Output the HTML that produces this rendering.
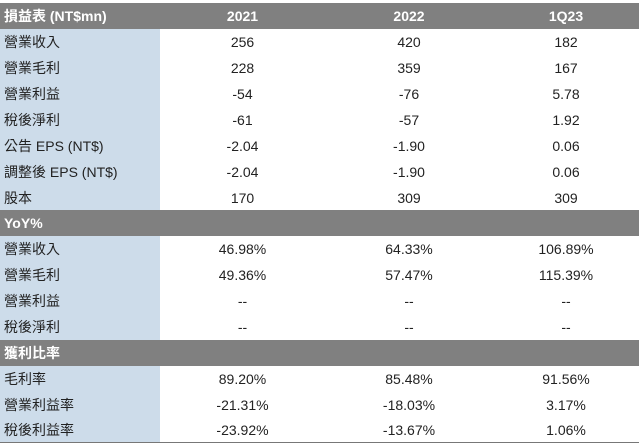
<!DOCTYPE html>
<html><head><meta charset="utf-8"><style>
body{margin:0;width:642px;height:445px;background:#fff;position:relative;overflow:hidden;font-family:"Liberation Sans","Noto Sans CJK TC",sans-serif;font-size:14px;color:#222}
.r{position:absolute;left:0;width:639px;height:26px;line-height:26px}
.h{background:#808080;color:#fff;font-weight:bold}
.c{position:absolute;top:0;height:100%}
.l{left:0;width:160px;padding-left:4px;box-sizing:border-box}
.b{background:#cddcea}
.a{left:160px;width:165px;text-align:center}
.d{left:325px;width:168px;text-align:center}
.e{left:493px;width:146px;text-align:center}
.line{position:absolute;left:0;width:639px;height:1px;background:#777}
</style></head><body>
<div class="r h" style="top:3px"><div class="c l">損益表 (NT$mn)</div><div class="c a">2021</div><div class="c d">2022</div><div class="c e">1Q23</div></div>
<div class="r" style="top:29px"><div class="c l b">營業收入</div><div class="c a">256</div><div class="c d">420</div><div class="c e">182</div></div>
<div class="r" style="top:55px"><div class="c l b">營業毛利</div><div class="c a">228</div><div class="c d">359</div><div class="c e">167</div></div>
<div class="r" style="top:81px"><div class="c l b">營業利益</div><div class="c a">-54</div><div class="c d">-76</div><div class="c e">5.78</div></div>
<div class="r" style="top:107px"><div class="c l b">稅後淨利</div><div class="c a">-61</div><div class="c d">-57</div><div class="c e">1.92</div></div>
<div class="r" style="top:133px"><div class="c l b">公告 EPS (NT$)</div><div class="c a">-2.04</div><div class="c d">-1.90</div><div class="c e">0.06</div></div>
<div class="r" style="top:159px"><div class="c l b">調整後 EPS (NT$)</div><div class="c a">-2.04</div><div class="c d">-1.90</div><div class="c e">0.06</div></div>
<div class="r" style="top:185px"><div class="c l b">股本</div><div class="c a">170</div><div class="c d">309</div><div class="c e">309</div></div>
<div class="r h" style="top:210px"><div class="c l">YoY%</div></div>
<div class="r" style="top:236px"><div class="c l b">營業收入</div><div class="c a">46.98%</div><div class="c d">64.33%</div><div class="c e">106.89%</div></div>
<div class="r" style="top:262px"><div class="c l b">營業毛利</div><div class="c a">49.36%</div><div class="c d">57.47%</div><div class="c e">115.39%</div></div>
<div class="r" style="top:288px"><div class="c l b">營業利益</div><div class="c a">--</div><div class="c d">--</div><div class="c e">--</div></div>
<div class="r" style="top:314px"><div class="c l b">稅後淨利</div><div class="c a">--</div><div class="c d">--</div><div class="c e">--</div></div>
<div class="r h" style="top:340px"><div class="c l">獲利比率</div></div>
<div class="r" style="top:366px"><div class="c l b">毛利率</div><div class="c a">89.20%</div><div class="c d">85.48%</div><div class="c e">91.56%</div></div>
<div class="r" style="top:392px"><div class="c l b">營業利益率</div><div class="c a">-21.31%</div><div class="c d">-18.03%</div><div class="c e">3.17%</div></div>
<div class="r" style="top:418px;height:24px;line-height:24px"><div class="c l b">稅後利益率</div><div class="c a">-23.92%</div><div class="c d">-13.67%</div><div class="c e">1.06%</div></div>
<div class="line" style="top:442px"></div>
</body></html>
